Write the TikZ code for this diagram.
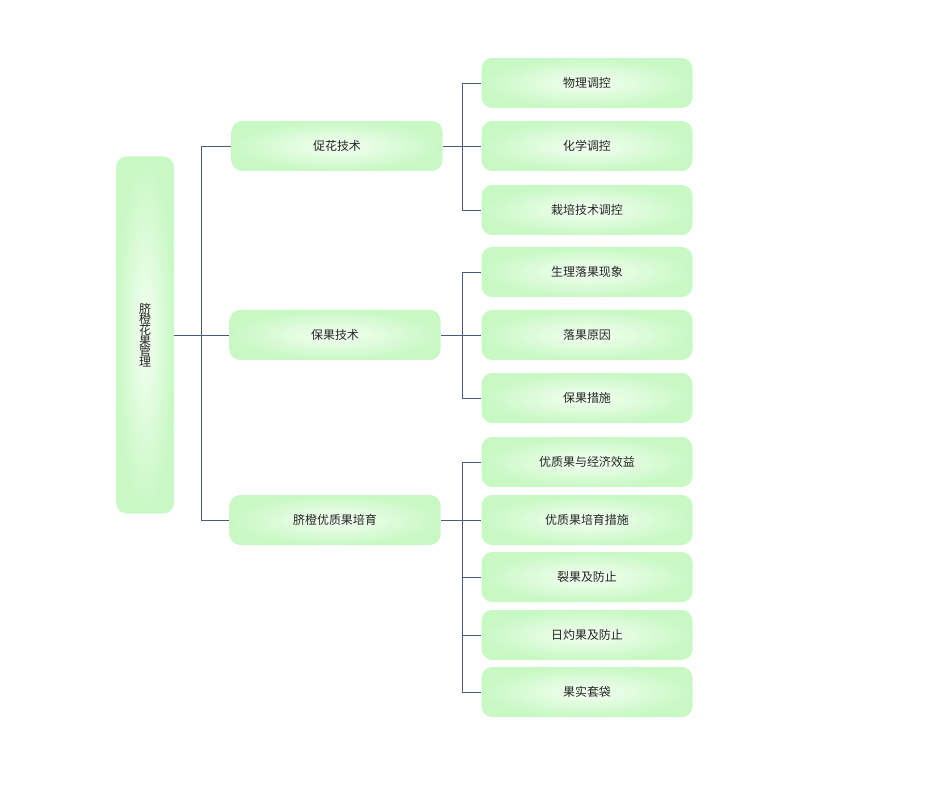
\documentclass[tikz,border=0pt]{standalone}
\usepackage{fontspec}
\setmainfont{Noto Sans CJK SC}
\definecolor{boxout}{RGB}{200,248,196}
\definecolor{boxin}{RGB}{244,255,242}
\definecolor{wire}{RGB}{70,90,130}
\begin{document}
\begin{tikzpicture}
	[x=0.0264cm,y=-0.0264cm,
	 topic/.style={rounded corners=8pt,inner color=boxin,outer color=boxout,
		minimum width=211*0.0264cm,minimum height=50*0.0264cm,font=\small,text=black!85},
	 link/.style={draw=wire,line width=0.6pt}]
	\useasboundingbox (0,0) rectangle (925,806);
	% root node
	\node[topic,minimum width=58*0.0264cm,minimum height=357*0.0264cm,align=center] (root) at (145,335)
		{脐\\[-3pt]橙\\[-3pt]花\\[-3pt]果\\[-3pt]管\\[-3pt]理};

	% first level
	\node[topic] (flower) at (337,146) {促花技术};
	\node[topic] (keep) at (335,335) {保果技术};
	\node[topic] (grow) at (335,520) {脐橙优质果培育};

	% second level
	\node[topic] (a1) at (587,83) {物理调控};
	\node[topic] (a2) at (587,146) {化学调控};
	\node[topic] (a3) at (587,210) {栽培技术调控};
	\node[topic] (b1) at (587,272) {生理落果现象};
	\node[topic] (b2) at (587,335) {落果原因};
	\node[topic] (b3) at (587,398) {保果措施};
	\node[topic] (c1) at (587,462) {优质果与经济效益};
	\node[topic] (c2) at (587,520) {优质果培育措施};
	\node[topic] (c3) at (587,577) {裂果及防止};
	\node[topic] (c4) at (587,635) {日灼果及防止};
	\node[topic] (c5) at (587,692) {果实套袋};

	% connectors
	\coordinate (rbus) at (201,335);
	\draw[link] (root.east) -- (rbus);
	\foreach \n in {flower,keep,grow}
		\draw[link] (rbus) |- (\n.west);
	\foreach \p/\list in {flower/{a1,a2,a3},keep/{b1,b2,b3},grow/{c1,c2,c3,c4,c5}}{
		\coordinate (\p bus) at (462,0 |- \p.east);
		\draw[link] (\p.east) -- (462,0 |- \p.east);
		\foreach \n in \list
			\draw[link] (462,0 |- \p.east) |- (\n.west);
	}
\end{tikzpicture}
\end{document}
